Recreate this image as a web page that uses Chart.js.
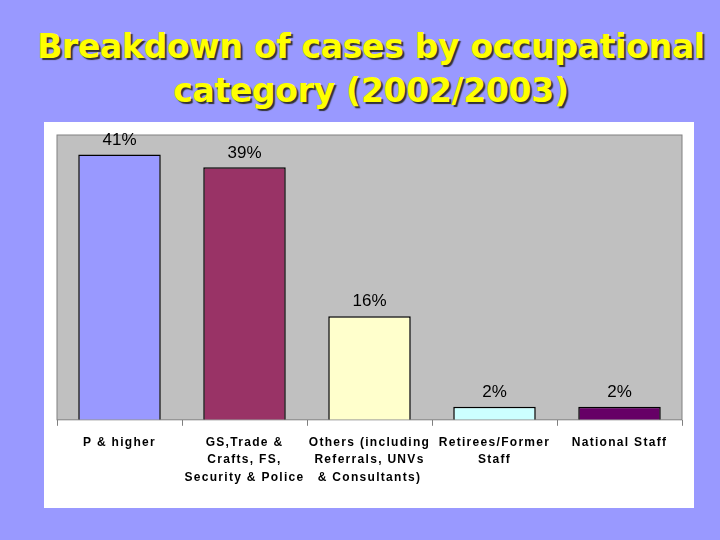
<!DOCTYPE html>
<html><head><meta charset="utf-8">
<script src="https://cdn.jsdelivr.net/npm/chart.js@4"></script>
<style>
body{margin:0;width:720px;height:540px;background:#9999ff;position:relative;overflow:hidden}
h1{position:absolute;left:0;top:25px;width:742px;margin:0;text-align:center;font:bold 33px "DejaVu Sans",sans-serif;color:#ffff00;text-shadow:2px 2px 1px #333;line-height:44px;letter-spacing:-0.3px}
#p{position:absolute;left:44px;top:122px;width:650px;height:386px;background:#fff}
</style></head><body>
<h1>Breakdown of cases by occupational<br>category (2002/2003)</h1>
<div id="p"><canvas id="c"></canvas></div>
<script>
const categories=[["P & higher"],["GS,Trade &","Crafts, FS,","Security & Police"],["Others (including","Referrals, UNVs","& Consultants)"],["Retirees/Former","Staff"],["National Staff"]];
const values=[41,39,16,2,2];
const valueLabels=["41%","39%","16%","2%","2%"];
const colors=["#9999ff","#993366","#ffffcc","#ccffff","#660066"];
const bg={id:'bg',beforeDraw(c){c.ctx.letterSpacing='1.3px';},beforeDatasetsDraw(c){const a=c.chartArea,x=c.ctx;x.save();x.fillStyle='#c0c0c0';x.fillRect(a.left,a.top,a.right-a.left,a.bottom-a.top);x.strokeStyle='#808080';x.lineWidth=1;x.strokeRect(a.left,a.top,a.right-a.left,a.bottom-a.top);x.restore();}};
const lbl={id:'lbl',afterDatasetsDraw(c){const x=c.ctx;x.save();x.letterSpacing='0px';x.font='17px "Liberation Sans",Arial';x.fillStyle='#000';x.textAlign='center';x.textBaseline='bottom';c.getDatasetMeta(0).data.forEach((b,i)=>x.fillText(valueLabels[i],b.x,b.y-6));x.restore();}};
new Chart(document.getElementById('c'),{type:'bar',
data:{labels:categories,datasets:[{data:values,backgroundColor:colors,borderColor:'#000',borderWidth:1.5,categoryPercentage:1,barPercentage:0.66}]},
options:{responsive:true,maintainAspectRatio:false,animation:false,
layout:{padding:{left:13,right:12,top:13,bottom:14}},
plugins:{legend:{display:false},tooltip:{enabled:false}},
scales:{y:{display:false,min:0,max:44},
x:{grid:{offset:true,drawOnChartArea:false,tickLength:6,color:'#808080'},border:{display:false},
ticks:{color:'#000',font:{family:'"Liberation Sans",Arial',size:12,weight:'bold',lineHeight:1.45},maxRotation:0,padding:8}}}},
plugins:[bg,lbl]});
</script></body></html>
